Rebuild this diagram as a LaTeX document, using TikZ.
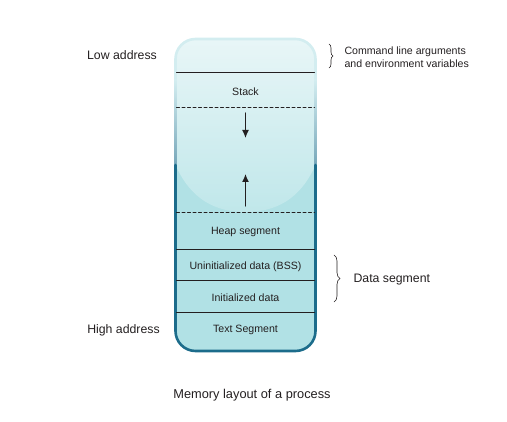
\documentclass[tikz,border=0pt]{standalone}
\usepackage{fontspec}
\setmainfont{Liberation Sans}
\usetikzlibrary{arrows.meta,decorations.pathreplacing}
\definecolor{segfill}{HTML}{B1E1E5}
\definecolor{segtop}{HTML}{E8F6F7}
\definecolor{segmid}{HTML}{C0E7EA}
\definecolor{segedge}{HTML}{1C6C8B}
\definecolor{segrim}{HTML}{D3EDF0}
\definecolor{inkdark}{HTML}{231F20}

\begin{document}
\begin{tikzpicture}[x=1pt,y=-1pt,line cap=round,
  lbl/.style={font=\fontsize{12.3}{14}\selectfont,text=inkdark},
  seg/.style={font=\fontsize{10.6}{12}\selectfont,text=inkdark},
  divider/.style={draw=inkdark,line width=1pt},
  brc/.style={decorate,decoration={brace,amplitude=#1},draw=inkdark,line width=0.6pt}]
\def\L{175.5}  % left edge
\def\R{315.5}  % right edge
\def\M{245.5}  % middle
\useasboundingbox (0,0) rectangle (507,422);
% body of the block
\begin{scope}
  \clip[rounded corners=20] (\L,39) rectangle (\R,351);
  \fill[segfill] (\L,39) rectangle (\R,351);
  \shade[top color=segtop,bottom color=segmid]
    (\L,39) -- (\R,39) -- (\R,165)
    .. controls (300,200) and (275,212) .. (\M,212)
    .. controls (216,212) and (191,200) .. (\L,165) -- cycle;
\end{scope}
% rim
\draw[segrim,line width=2.6pt,rounded corners=20] (\L,165) -- (\L,39) -- (\R,39) -- (\R,165);
\shade[top color=segrim,bottom color=segedge!60] (\L-1.3,80) rectangle (\L+1.3,165);
\shade[top color=segrim,bottom color=segedge!60] (\R-1.3,80) rectangle (\R+1.3,165);
\draw[segedge,line width=2.6pt,rounded corners=20] (\L,165) -- (\L,351) -- (\R,351) -- (\R,165);
% dividers
\draw[divider] (\L+1,73) -- (\R-1,73);
\draw[divider,dashed,dash pattern=on 3pt off 2.5pt] (\L+1,108) -- (\R-1,108);
\draw[divider,dashed,dash pattern=on 3pt off 2.5pt] (\L+1,213) -- (\R-1,213);
\draw[divider] (\L+1,250) -- (\R-1,250);
\draw[divider] (\L+1,281) -- (\R-1,281);
\draw[divider] (\L+1,313) -- (\R-1,313);
% segment names
\node[seg] (stack) at (\M,92) {Stack};
\node[seg] (heap) at (\M,232) {Heap segment};
\node[seg] (bss) at (\M,267) {Uninitialized data (BSS)};
\node[seg] (init) at (\M,298) {Initialized data};
\node[seg] (text) at (\M,330) {Text Segment};
% growth arrows
\coordinate (dnA) at (\M,113);
\coordinate (dnB) at (\M,138);
\coordinate (upA) at (\M,206);
\coordinate (upB) at (\M,174);
\draw[inkdark,line width=1.2pt,-{Latex[length=8pt,width=7pt]}] (dnA) -- (dnB);
\draw[inkdark,line width=1.2pt,-{Latex[length=8pt,width=7pt]}] (upA) -- (upB);
% address labels
\node[lbl] (lowaddr) at (122,55) {Low address};
\node[lbl] (highaddr) at (123.5,330) {High address};
% braces
\coordinate (argsT) at (329,44);
\coordinate (argsB) at (329,68);
\coordinate (dataT) at (334,255);
\coordinate (dataB) at (334,302);
\draw[brc=4pt] (argsT) -- (argsB);
\draw[brc=6pt] (dataT) -- (dataB);
\node[seg,anchor=west,align=left,font=\fontsize{10.6}{13}\selectfont] (cmdargs) at (341,57)
  {Command line arguments\\and environment variables};
\node[lbl,anchor=west] (dataseg) at (350,280) {Data segment};
% caption
\node[lbl,font=\fontsize{12.8}{15}\selectfont] (caption) at (252,395) {Memory layout of a process};
\end{tikzpicture}
\end{document}
